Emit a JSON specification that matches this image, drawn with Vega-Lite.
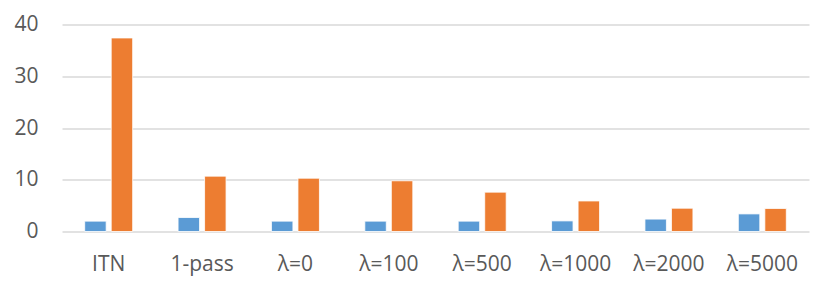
{
  "$schema": "https://vega.github.io/schema/vega-lite/v6.json",
  "autosize": {"type": "none"},
  "width": 747,
  "height": 207,
  "padding": {"left": 62, "top": 24.5, "right": 21, "bottom": 59.5},
  "background": "white",
  "data": {
    "values": [
      {"category": "ITN", "series": "A", "value": 2.0},
      {"category": "ITN", "series": "B", "value": 37.4},
      {"category": "1-pass", "series": "A", "value": 2.7},
      {"category": "1-pass", "series": "B", "value": 10.7},
      {"category": "λ=0", "series": "A", "value": 2.0},
      {"category": "λ=0", "series": "B", "value": 10.3},
      {"category": "λ=100", "series": "A", "value": 2.0},
      {"category": "λ=100", "series": "B", "value": 9.8},
      {"category": "λ=500", "series": "A", "value": 2.0},
      {"category": "λ=500", "series": "B", "value": 7.6},
      {"category": "λ=1000", "series": "A", "value": 2.05},
      {"category": "λ=1000", "series": "B", "value": 5.9},
      {"category": "λ=2000", "series": "A", "value": 2.4},
      {"category": "λ=2000", "series": "B", "value": 4.5},
      {"category": "λ=5000", "series": "A", "value": 3.4},
      {"category": "λ=5000", "series": "B", "value": 4.45}
    ]
  },
  "mark": {"type": "bar", "stroke": "white", "strokeWidth": 0.8},
  "encoding": {
    "x": {
      "field": "category",
      "type": "nominal",
      "sort": null,
      "scale": {"paddingInner": 0.486, "paddingOuter": 0.243},
      "axis": {
        "title": null,
        "labelAngle": 0,
        "domain": false,
        "ticks": false,
        "labelPadding": 22,
        "labelFont": "Open Sans",
        "labelFontSize": 21,
        "labelColor": "#595959"
      }
    },
    "xOffset": {"field": "series", "type": "nominal", "scale": {"paddingInner": 0.19}},
    "y": {
      "field": "value",
      "type": "quantitative",
      "scale": {"domain": [0, 40], "nice": false},
      "axis": {
        "title": null,
        "values": [0, 10, 20, 30, 40],
        "domain": false,
        "ticks": false,
        "labelPadding": 24,
        "labelFont": "Open Sans",
        "labelFontSize": 21,
        "labelColor": "#595959",
        "gridColor": "#d9d9d9",
        "gridWidth": 1.5
      }
    },
    "color": {
      "field": "series",
      "type": "nominal",
      "scale": {"domain": ["A", "B"], "range": ["#5B9BD5", "#ED7D31"]},
      "legend": null
    }
  },
  "config": {"view": {"stroke": null}}
}
